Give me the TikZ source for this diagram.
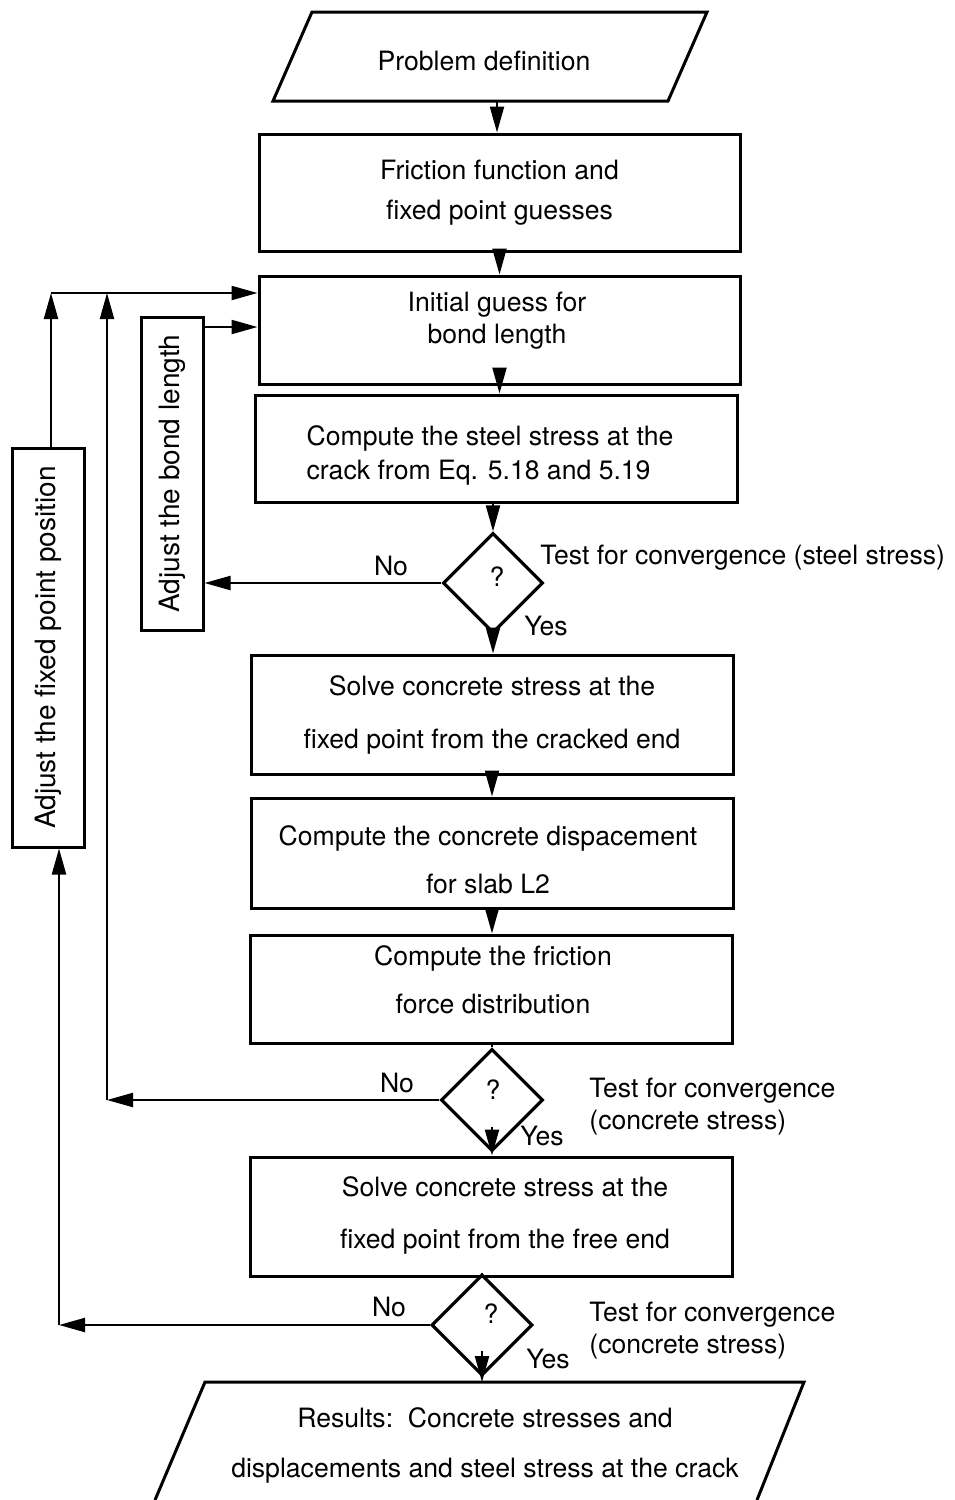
\documentclass[tikz,border=0pt]{standalone}
\usepackage{fontspec}
\setmainfont{TeX Gyre Heros}
\usetikzlibrary{shapes.geometric,arrows.meta}

\begin{document}
\begin{tikzpicture}[x=0.5pt, y=-0.5pt,
    every node/.style={font=\fontsize{13.3}{16}\selectfont},
    box/.style={draw, line width=1.5pt, align=center, inner sep=0pt},
    decision/.style={draw, diamond, line width=1.6pt, aspect=1, inner sep=0pt, minimum size=50pt},
    flow/.style={-{Triangle[length=13pt,width=7pt]}, line width=1.1pt},
    note/.style={inner sep=0pt, align=left}]
    \useasboundingbox (0,0) rectangle (954,1500);

    % Problem definition (input)
    \draw[line width=1.5pt] (273,101) -- (312,12) -- (707,12) -- (668,101) -- cycle;
    \node (probdef) at (484,61) {Problem definition};
    \coordinate (pd-out) at (497,101);

    % Main column
    \node[box, minimum width=240.5pt, minimum height=58.5pt] (friction) at (499.5,192.5) {Friction function and\\[4pt] fixed point guesses};
    \node[box, minimum width=240.5pt, minimum height=54pt] (initial) at (499.5,330) {};
    \node[align=center] (initial-t) at (497,321) {Initial guess for\\ bond length};
    \node[box, minimum width=241pt, minimum height=53.5pt] (steel) at (496,448.5) {};
    \node[align=left] (steel-t) at (490,455) {Compute the steel stress at the\\[1pt] crack from Eq. 5.18 and 5.19};
    \node[decision] (d1) at (493,583) {};
    \node (q1) at (497,577) {?};
    \node[box, minimum width=241pt, minimum height=59.5pt] (solvecrack) at (492,714.5) {Solve concrete stress at the\\[10.5pt] fixed point from the cracked end};
    \node[box, minimum width=241pt, minimum height=55pt] (displ) at (492,853) {};
    \node[align=center] (displ-t) at (488,860) {Compute the concrete dispacement\\[8pt] for slab L2};
    \node[box, minimum width=241pt, minimum height=54pt] (fricforce) at (491,989) {};
    \node[align=center] (fricforce-t) at (493,980) {Compute the friction\\[8pt] force distribution};
    \node[decision, minimum size=51pt] (d2) at (492,1100) {};
    \node (q2) at (493,1090) {?};
    \node[box, minimum width=241pt, minimum height=59.5pt] (solvefree) at (491,1216.5) {};
    \node[align=center] (solvefree-t) at (505,1215) {Solve concrete stress at the\\[10pt] fixed point from the free end};
    \node[decision, minimum size=50.5pt] (d3) at (482,1325) {};
    \node (q3) at (491,1314) {?};

    % Results (output)
    \draw[line width=1.5pt] (155,1500) -- (205,1382) -- (804,1382) -- (757,1500);
    \node[align=center] (results) at (485,1445) {Results:\ \ Concrete stresses and\\[9pt] displacements and steel stress at the crack};
    \coordinate (res-in) at (482,1382);

    % Adjustment boxes
    \node[box, minimum width=31pt, minimum height=156.5pt] (bondbox) at (172,473.5) {\rotatebox{90}{\fontsize{14}{16}\selectfont Adjust the bond length}};
    \node[box, minimum width=36pt, minimum height=199.5pt] (fixbox) at (48,647.5) {\rotatebox{90}{\fontsize{14}{16}\selectfont Adjust the fixed point position}};

    % Labels at the tests
    \node (no1) at (391,566) {No};
    \node (yes1) at (546,626) {Yes};
    \node[note, anchor=west] (test1) at (540,558) {Test for convergence (steel stress)};
    \node (no2) at (397,1083) {No};
    \node (yes2) at (542,1136) {Yes};
    \node[note, anchor=west] (test2) at (589,1107) {Test for convergence\\ (concrete stress)};
    \node (no3) at (389,1307) {No};
    \node (yes3) at (548,1359) {Yes};
    \node[note, anchor=west] (test3) at (589,1331) {Test for convergence\\ (concrete stress)};

    % Main flow
    \draw[flow] (pd-out) -- (pd-out |- friction.north);
    \draw[flow] (friction.south) -- (initial.north);
    \draw[flow] (initial.south) -- (initial.south |- steel.north);
    \draw[flow] (d1.north |- steel.south) -- (d1.north);
    \draw[flow] (d1.south) -- (d1.south |- solvecrack.north);
    \draw[flow] (solvecrack.south) -- (displ.north);
    \draw[flow] (displ.south) -- (displ.south |- fricforce.north);
    \draw[line width=1.1pt] (fricforce.south -| d2.north) -- (d2.north);
    \draw[flow] ([yshift=13pt]d2.south) -- (d2.south |- solvefree.north);
    \draw[line width=1.1pt] (solvefree.south -| d3.north) -- (d3.north);
    \draw[flow] ([yshift=13pt]d3.south) -- (res-in);

    % Loops back
    \coordinate (bl-out) at (203,327);
    \coordinate (inner-top) at (107,293);
    \coordinate (outer-top) at (51,293);
    \coordinate (outer-bot) at (59,1325);
    \draw[flow] (d1.west) -- (d1.west -| bondbox.east);
    \draw[flow] (bl-out) -- (bl-out -| initial.west);
    \draw[flow] (d2.west) -- (d2.west -| inner-top);
    \draw[flow] (d2.west -| inner-top) -- (inner-top);
    \draw[flow] (outer-top |- fixbox.north) -- (outer-top);
    \draw[flow] (outer-top) -- (outer-top -| initial.west);
    \draw[flow] (d3.west) -- (d3.west -| outer-bot);
    \draw[flow] (d3.west -| outer-bot) -- (outer-bot |- fixbox.south);

\end{tikzpicture}
\end{document}
